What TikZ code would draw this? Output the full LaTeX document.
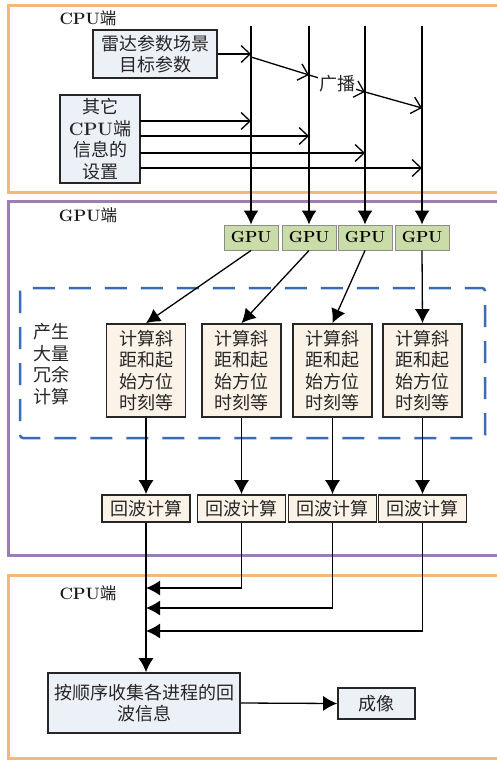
\documentclass[tikz,border=0pt]{standalone}
\usepackage{fontspec}
\newfontfamily\cjk{Noto Sans CJK SC}
\usetikzlibrary{arrows.meta}

\definecolor{frameorange}{HTML}{F4B878}
\definecolor{framepurple}{HTML}{9B7EB2}
\definecolor{dashblue}{HTML}{3B6BB3}
\definecolor{gpugreen}{HTML}{CADCA8}
\definecolor{paramblue}{HTML}{ECF1F8}
\definecolor{calcbeige}{HTML}{FCF3E8}

\newcommand{\lmb}[1]{{\rmfamily\bfseries #1}}

\tikzset{
  cjkfont/.style={font={\cjk\fontsize{18}{21.5}\selectfont}},
  cpuframe/.style={draw=frameorange, line width=3pt},
  gpuframe/.style={draw=framepurple, line width=3pt},
  redundant/.style={draw=dashblue, line width=2.5pt, dash pattern=on 22pt off 14pt, rounded corners=3pt},
  side/.style={font={\cjk\fontsize{16.5}{19}\selectfont}, text=black!90},
  parbox/.style={cjkfont, draw=black!85, line width=1.7pt, fill=paramblue, align=center, inner sep=1pt, text=black!85},
  gpubox/.style={draw=black!45, line width=1pt, fill=gpugreen, minimum width=54pt, minimum height=25pt, inner sep=0pt, font=\fontsize{16}{18}\selectfont\bfseries},
  calcbox/.style={parbox, fill=calcbeige, minimum width=79pt, minimum height=93pt},
  echobox/.style={parbox, fill=calcbeige, minimum width=88pt, minimum height=27pt},
  barb/.style={line width=1.3pt, -{Straight Barb[length=9pt,width=17pt]}},
  flow/.style={line width=1.3pt, -{Latex[length=14pt,width=15pt]}}
}

\begin{document}
\begin{tikzpicture}[x=1pt,y=-1pt]
  \clip (0,0) rectangle (497,760);
  % frames
  \draw[cpuframe] (8,6) rectangle (530,192);
  \draw[gpuframe] (8,201) rectangle (530,555);
  \draw[cpuframe] (8,575) rectangle (530,758);
  \draw[redundant] (20,288) rectangle (485,438);
  \node[side] (top) at (88,18) {\lmb{CPU}端};
  \node[side] (mid) at (88,215) {\lmb{GPU}端};
  \node[side] (bot) at (88,593) {\lmb{CPU}端};
  \node[cjkfont, align=center, text=black!85] (extra) at (51,364) {产生\\大量\\冗余\\计算};

  % CPU side
  \node[parbox, minimum width=124pt, minimum height=48pt] (radar) at (155,54) {雷达参数场景\\目标参数};
  \node[parbox, minimum width=80pt, minimum height=88pt] (other) at (100,139) {其它\\\lmb{CPU}端\\信息的\\设置};

  % GPU side
  \foreach \i/\x in {1/251,2/309,3/365,4/422}
    \node[gpubox] (g\i) at (\x,237.5) {GPU};
  \foreach \i/\x in {1/146,2/241.5,3/332.5,4/422.5}
    \node[calcbox] (c\i) at (\x,370.5) {计算斜\\距和起\\始方位\\时刻等};
  \foreach \i/\x in {1/146,2/241.5,3/332.5,4/422.5}
    \node[echobox] (e\i) at (\x,508.5) {回波计算};

  % CPU side again
  \node[parbox, minimum width=192pt, minimum height=60pt] (collect) at (144,703) {按顺序收集各进程的回\\波信息};
  \node[parbox, minimum width=77pt, minimum height=31pt] (image) at (376.5,703.5) {成像};

  % broadcast lines
  \foreach \i/\x in {1/251,2/309,3/365,4/422}
    \coordinate (t\i) at (\x,26);
  \foreach \i in {1,...,4}
    \draw[flow] (t\i) -- (g\i.north);
  \draw[barb] (radar.east) -- (radar.east -| t1);
  \coordinate (b1) at (251,57);
  \coordinate (b2) at (309,75);
  \coordinate (b3) at (365,92);
  \coordinate (b4) at (422,108);
  \draw[barb] (b1) -- (b2);
  \draw[barb] (b2) -- node[cjkfont, fill=white, inner sep=1pt, text=black!85] (bc) {广播} (b3);
  \draw[barb] (b3) -- (b4);
  \foreach \i/\y in {1/121,2/136,3/153,4/168} {
    \coordinate (o\i) at (140,\y);
    \draw[barb] (o\i) -- (o\i -| t\i);
  }

  \foreach \i in {1,...,4} {
    \draw[flow] (g\i.south) -- (c\i.north);
    \draw[flow] (c\i.south) -- (e\i.north);
  }

  % collect echoes
  \coordinate (m2) at (0,588);
  \coordinate (m3) at (0,608);
  \coordinate (m4) at (0,631);
  \draw[flow] (e1.south) -- (e1.south |- collect.north);
  \foreach \i in {2,3,4}
    \draw[flow] (e\i.south) |- (e1.south |- m\i);
  \draw[flow] (collect.east) -- (image.west);
\end{tikzpicture}
\end{document}
